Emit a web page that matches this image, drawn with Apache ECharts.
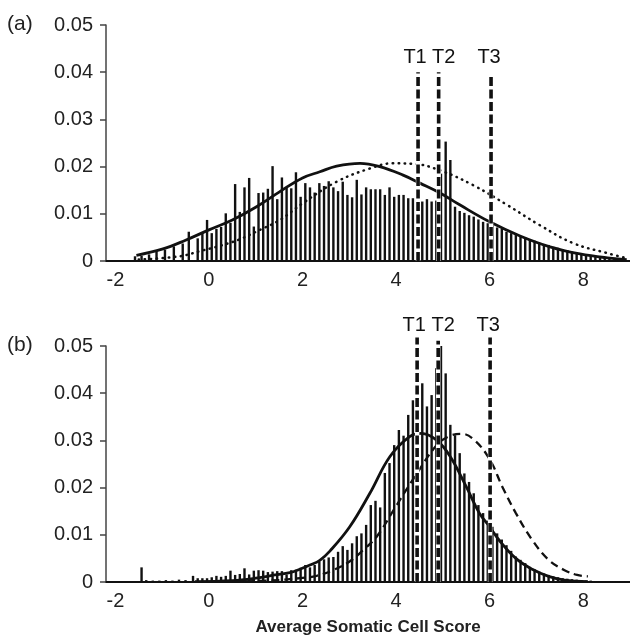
<!DOCTYPE html>
<html>
<head>
<meta charset="utf-8">
<script src="https://cdn.jsdelivr.net/npm/echarts@6/dist/echarts.min.js"></script>
<style>html,body{margin:0;padding:0;background:#fff;}#c{width:630px;height:640px;}</style>
</head>
<body>
<div id="c"></div>
<script>
// ---------- data ----------
const xTickLabels = [-2, 0, 2, 4, 6, 8];
const yTickLabels = [0, 0.01, 0.02, 0.03, 0.04, 0.05];

// panel (a) histogram
const barXA = [-1.58,-1.44,-1.28,-1.12,-0.94,-0.75,-0.56,-0.43,-0.24,-0.14,-0.04,0.06,0.16,0.26,0.36,0.46,0.56,0.66,0.76,0.86,0.96,1.06,1.16,1.26,1.36,1.46,1.56,1.66,1.76,1.86,1.96,2.06,2.16,2.26,2.36,2.46,2.56,2.66,2.76,2.86,2.96,3.06,3.16,3.26,3.36,3.46,3.56,3.66,3.76,3.86,3.96,4.06,4.16,4.26,4.36,4.46,4.56,4.66,4.76,4.86,4.96,5.06,5.16,5.26,5.36,5.46,5.56,5.66,5.76,5.86,5.96,6.06,6.16,6.26,6.36,6.46,6.56,6.66,6.76,6.86,6.96,7.06,7.16,7.26,7.36,7.46,7.56,7.66,7.76,7.86,7.96,8.06,8.16,8.26,8.36,8.46,8.56,8.66,8.76,8.86];
const barYA = [0.0010,0.0011,0.0014,0.0021,0.0024,0.0031,0.0037,0.0062,0.0048,0.0060,0.0087,0.0059,0.0068,0.0072,0.0101,0.0081,0.0163,0.0104,0.0156,0.0176,0.0073,0.0144,0.0145,0.0153,0.0201,0.0131,0.0177,0.0156,0.0154,0.0188,0.0136,0.0165,0.0156,0.0145,0.0165,0.0159,0.0169,0.0156,0.0148,0.0168,0.0140,0.0135,0.0172,0.0141,0.0156,0.0152,0.0152,0.0152,0.0140,0.0156,0.0136,0.0140,0.0140,0.0133,0.0133,0.0130,0.0126,0.0131,0.0126,0.0128,0.0185,0.0253,0.0214,0.0115,0.0106,0.0102,0.0097,0.0094,0.0088,0.0083,0.0080,0.0076,0.0071,0.0068,0.0062,0.0059,0.0055,0.0053,0.0050,0.0046,0.0043,0.0039,0.0036,0.0034,0.0030,0.0028,0.0025,0.0023,0.0020,0.0018,0.0015,0.0013,0.0011,0.0009,0.0007,0.0006,0.0005,0.0004,0.0003,0.0002];

// panel (a) fitted curves
const curveXA1 = [-1.55,-1.0,-0.5,0.0,0.5,1.0,1.5,2.0,2.37,2.73,3.23,3.65,4.15,4.51,4.94,5.36,6.0,6.65,7.29,7.93,8.57,8.93];
const curveYA1 = [0.0012,0.0025,0.0044,0.0066,0.0087,0.0114,0.0146,0.0176,0.0189,0.0201,0.0207,0.0200,0.0182,0.0165,0.0144,0.0119,0.0083,0.0053,0.0030,0.0015,0.0006,0.0003];
const curveXA2 = [-1.5,-0.62,-0.19,0.23,0.66,1.09,1.52,2.0,2.73,3.44,3.93,4.36,4.94,5.64,6.37,7.07,7.78,8.5,8.93];
const curveYA2 = [0.0003,0.0010,0.0021,0.0032,0.0046,0.0066,0.0087,0.0122,0.0168,0.0196,0.0207,0.0206,0.0192,0.0161,0.0119,0.0076,0.0038,0.0017,0.0006];

// panel (b) histogram
const barXB = [-1.44,-1.34,-1.2,-1.06,-0.92,-0.78,-0.64,-0.5,-0.34,-0.24,-0.14,-0.04,0.06,0.16,0.26,0.36,0.46,0.56,0.66,0.76,0.86,0.96,1.06,1.16,1.26,1.36,1.46,1.56,1.66,1.76,1.86,1.96,2.06,2.16,2.26,2.36,2.46,2.56,2.66,2.76,2.86,2.96,3.06,3.16,3.26,3.36,3.46,3.56,3.66,3.76,3.86,3.96,4.06,4.16,4.26,4.36,4.46,4.56,4.66,4.76,4.86,4.96,5.06,5.16,5.26,5.36,5.46,5.56,5.66,5.76,5.86,5.96,6.06,6.16,6.26,6.36,6.46,6.56,6.66,6.76,6.86,6.96,7.06,7.16,7.26,7.36,7.46,7.56,7.66,7.76,7.86,7.96,8.06,8.16,8.26,8.36,8.46,8.56,8.66,8.76,8.86];
const barYB = [0.0031,0.0004,0.0003,0.0003,0.0004,0.0003,0.0005,0.0004,0.0013,0.0008,0.0008,0.0008,0.0010,0.0013,0.0011,0.0013,0.0024,0.0015,0.0017,0.0029,0.0016,0.0024,0.0025,0.0024,0.0021,0.0022,0.0023,0.0023,0.0016,0.0025,0.0026,0.0030,0.0036,0.0031,0.0036,0.0043,0.0048,0.0052,0.0053,0.0064,0.0076,0.0068,0.0082,0.0097,0.0103,0.0121,0.0163,0.0172,0.0158,0.0231,0.0252,0.0290,0.0322,0.0310,0.0354,0.0385,0.0400,0.0421,0.0372,0.0396,0.0453,0.0500,0.0442,0.0333,0.0311,0.0273,0.0230,0.0212,0.0188,0.0163,0.0146,0.0130,0.0117,0.0103,0.0090,0.0078,0.0066,0.0054,0.0047,0.0040,0.0032,0.0027,0.0022,0.0018,0.0015,0.0012,0.0010,0.0008,0.0007,0.0006,0.0005,0.0004,0.0003,0.0003,0.0002,0.0002,0.0001,0.0001,0.0001,0.0001,0.0001];

// panel (b) fitted curves
const curveXB1 = [-0.3,0.5,1.0,1.3,1.73,1.94,2.16,2.37,2.59,3.01,3.44,3.87,4.29,4.54,4.86,5.15,5.5,5.78,6.0,6.2,6.56,6.91,7.26,7.6,8.1];
const curveYB1 = [0.0001,0.0003,0.0008,0.0013,0.0020,0.0027,0.0036,0.0046,0.0066,0.0117,0.0188,0.0266,0.0308,0.0315,0.0301,0.0267,0.0202,0.0146,0.0117,0.0089,0.0050,0.0027,0.0012,0.0004,0.0001];
const curveXB2 = [0.5,1.3,1.94,2.3,2.65,3.0,3.3,3.6,3.97,4.4,4.87,5.14,5.4,5.67,6.0,6.27,6.56,6.91,7.26,7.6,7.87,8.1];
const curveYB2 = [0.0001,0.0003,0.0008,0.0013,0.0025,0.0043,0.0068,0.0098,0.0156,0.0223,0.0290,0.0309,0.0314,0.0301,0.0260,0.0202,0.0146,0.0089,0.0047,0.0025,0.0015,0.0012];

// thresholds
const tNames = ['T1', 'T2', 'T3'];
const tXA = [4.47, 4.91, 6.03];
const tTopA = [0.0400, 0.0400, 0.0390];
const tXB = [4.45, 4.90, 6.01];
const tTopB = [0.0518, 0.0511, 0.0518];

// ---------- chart ----------
const FONT = "'Liberation Sans', Arial, Helvetica, sans-serif";
const zip = (a, b) => a.map((v, i) => [v, b[i]]);
const labelOffX = [-3, 5, -2];

function makeTRender(labelY) {
  return function (params, api) {
    const x = api.value(0), top = api.value(1);
    const p0 = api.coord([x, 0]);
    const p1 = api.coord([x, top]);
    return {
      type: 'group',
      children: [
        { type: 'line', shape: { x1: p0[0], y1: p0[1], x2: p1[0], y2: p1[1] }, style: { stroke: '#fff', lineWidth: 4.5 } },
        { type: 'line', shape: { x1: p0[0], y1: p0[1], x2: p1[0], y2: p1[1] }, style: { stroke: '#111', lineWidth: 3.6, lineDash: [9, 3.5] } },
        { type: 'text', style: { text: tNames[params.dataIndex], x: p1[0] + labelOffX[params.dataIndex], y: labelY, align: 'center', verticalAlign: 'middle', fontSize: 20, fontFamily: FONT, fill: '#111' } }
      ]
    };
  };
}

const xAxisBase = {
  type: 'value', min: -2.2, max: 9,
  axisLine: { show: true, onZero: false, lineStyle: { color: '#111', width: 2 } },
  axisTick: { show: false, customValues: xTickLabels },
  splitLine: { show: false },
  axisLabel: { customValues: xTickLabels, fontSize: 20, fontFamily: FONT, color: '#222', margin: 9 }
};
const yAxisBase = {
  type: 'value', min: 0, max: 0.05, interval: 0.01,
  axisLine: { show: true, onZero: false, lineStyle: { color: '#444', width: 1.5 } },
  axisTick: { show: true, inside: false, length: 6, lineStyle: { color: '#444', width: 1.5 } },
  splitLine: { show: false },
  axisLabel: { fontSize: 20, fontFamily: FONT, color: '#222', margin: 13,
    formatter: v => (v === 0 ? '0' : v.toFixed(2)) }
};

const chart = echarts.init(document.getElementById('c'), null, { renderer: 'canvas' });
chart.setOption({
  animation: false,
  backgroundColor: '#fff',
  grid: [
    { left: 106, top: 25, width: 524, height: 236 },
    { left: 106, top: 346, width: 524, height: 236 }
  ],
  xAxis: [
    Object.assign({ gridIndex: 0 }, xAxisBase),
    Object.assign({ gridIndex: 1, name: 'Average Somatic Cell Score', nameLocation: 'middle', nameGap: 37,
      nameTextStyle: { fontSize: 17, fontWeight: 'bold', fontFamily: FONT, color: '#222' } }, xAxisBase)
  ],
  yAxis: [
    Object.assign({ gridIndex: 0 }, yAxisBase),
    Object.assign({ gridIndex: 1 }, yAxisBase)
  ],
  graphic: [
    { type: 'text', left: 7, top: 14, style: { text: '(a)', fontSize: 21, fontFamily: FONT, fill: '#222' } },
    { type: 'text', left: 7, top: 335, style: { text: '(b)', fontSize: 21, fontFamily: FONT, fill: '#222' } }
  ],
  series: [
    { type: 'bar', xAxisIndex: 0, yAxisIndex: 0, data: zip(barXA, barYA), barWidth: 2.4, itemStyle: { color: '#111' }, silent: true },
    { type: 'line', xAxisIndex: 0, yAxisIndex: 0, data: zip(curveXA1, curveYA1), smooth: 0.4, showSymbol: false, lineStyle: { color: '#111', width: 2.8 } },
    { type: 'line', xAxisIndex: 0, yAxisIndex: 0, data: zip(curveXA2, curveYA2), smooth: 0.4, showSymbol: false, lineStyle: { color: '#111', width: 2.5, type: [0.5, 5.5], cap: 'round' } },
    { type: 'custom', xAxisIndex: 0, yAxisIndex: 0, data: zip(tXA, tTopA), renderItem: makeTRender(57), clip: false, z: 10 },

    { type: 'bar', xAxisIndex: 1, yAxisIndex: 1, data: zip(barXB, barYB), barWidth: 2.4, itemStyle: { color: '#111' }, silent: true },
    { type: 'line', xAxisIndex: 1, yAxisIndex: 1, data: zip(curveXB1, curveYB1), smooth: 0.4, showSymbol: false, lineStyle: { color: '#111', width: 2.8 } },
    { type: 'line', xAxisIndex: 1, yAxisIndex: 1, data: zip(curveXB2, curveYB2), smooth: 0.4, showSymbol: false, lineStyle: { color: '#111', width: 2.3, type: [8, 5] } },
    { type: 'custom', xAxisIndex: 1, yAxisIndex: 1, data: zip(tXB, tTopB), renderItem: makeTRender(325), clip: false, z: 10 }
  ]
});
</script>
</body>
</html>
